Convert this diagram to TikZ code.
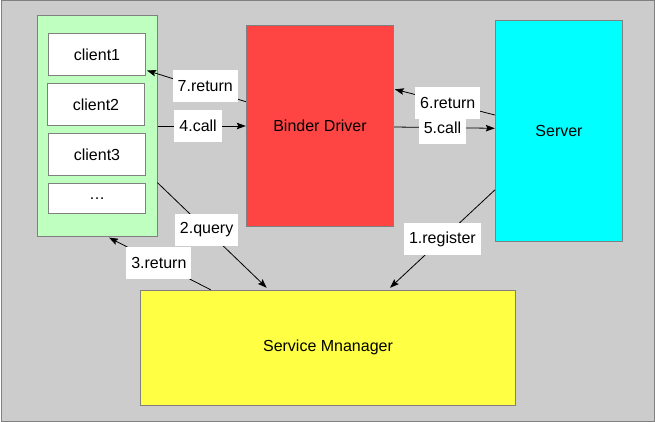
\documentclass[tikz,border=0pt]{standalone}
\usepackage{fontspec}
\setmainfont{Liberation Sans}
\usetikzlibrary{arrows.meta}
\definecolor{bggray}{HTML}{CCCCCC}
\definecolor{edgegray}{HTML}{808080}
\definecolor{grpgreen}{HTML}{BFFFC0}
\definecolor{bdred}{HTML}{FF4444}
\definecolor{srvcyan}{HTML}{00FFFF}
\definecolor{smyellow}{HTML}{FFFF44}
\tikzset{
  box/.style={draw=edgegray, line width=1pt, inner sep=0pt, font=\fontsize{16}{19}\selectfont},
  lbl/.style={fill=white, inner xsep=5pt, inner ysep=0pt, minimum height=32.5pt, font=\fontsize{16}{19}\selectfont, text=black},
  conn/.style={draw=black, line width=0.8pt, -{Stealth[length=9pt,width=6.5pt,inset=1.5pt]}},
}
\begin{document}
\begin{tikzpicture}[x=1pt,y=-1pt]
\useasboundingbox (0,0) rectangle (655,422);
\node[box, fill=bggray, minimum width=653pt, minimum height=420pt] (bg) at (327.5,211) {};
% client group
\node[box, fill=grpgreen, minimum width=120pt, minimum height=221pt] (grp) at (97,126) {};
\node[box, fill=white, minimum width=97pt, minimum height=42pt] (c1) at (97,54.3) {client1};
\node[box, fill=white, minimum width=97pt, minimum height=42pt] (c2) at (96,104.3) {client2};
\node[box, fill=white, minimum width=97pt, minimum height=42pt] (c3) at (97,154.3) {client3};
\node[box, fill=white, minimum width=97pt, minimum height=30pt] (c4) at (97,198.3) {…};
% binder
\node[box, fill=bdred, minimum width=147.4pt, minimum height=201.4pt] (bd) at (320,126) {Binder Driver};
% server
\node[box, fill=srvcyan, minimum width=127.4pt, minimum height=220.6pt] (srv) at (559,131) {Server};
% service manager
\node[box, fill=smyellow, minimum width=375.4pt, minimum height=115pt] (sm) at (328,347.8) {Service Mnanager};
% connectors
\draw[conn] ([yshift=24.3pt]bd.west) -- node[lbl, pos=0.41, yshift=3pt] (l7) {7.return} ([xshift=1pt,yshift=5.3pt]c1.south east);
\draw[conn] (grp.east) -- node[lbl, pos=0.46] (l4) {4.call} (bd.west);
\draw[conn] ([yshift=-56.7pt]grp.east) -- node[lbl, pos=0.45] (l2) {2.query} ([xshift=-61.3pt,yshift=2pt]sm.north);
\draw[conn] ([xshift=-117.3pt]sm.north) -- node[lbl, pos=0.51] (l3) {3.return} ([xshift=12pt,yshift=-0.6pt]grp.south);
\draw[conn] ([yshift=-1pt]bd.east) -- node[lbl, pos=0.48] (l5) {5.call} ([yshift=2.7pt]srv.west);
\draw[conn] ([yshift=16pt]srv.west) -- node[lbl, pos=0.47] (l6) {6.return} ([xshift=0.6pt,yshift=36.7pt]bd.east);
\draw[conn] ([yshift=-59pt]srv.west) -- node[lbl, pos=0.5] (l1) {1.register} ([xshift=62pt,yshift=2pt]sm.north);
\end{tikzpicture}
\end{document}
